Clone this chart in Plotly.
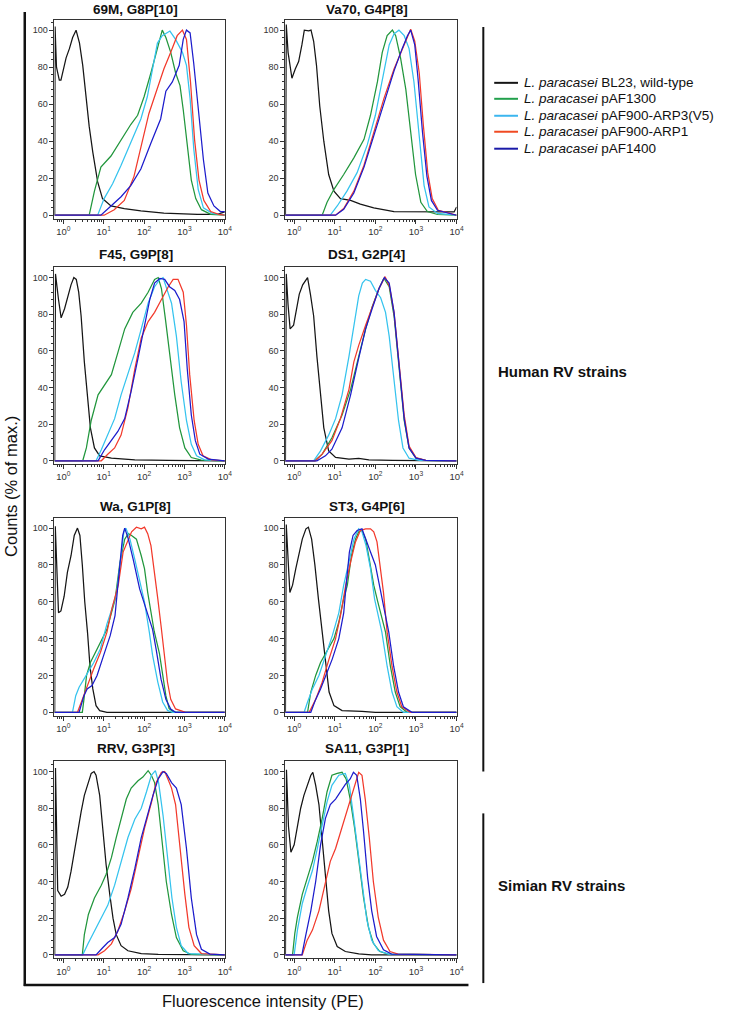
import numpy as np
import plotly.graph_objects as go

W, H = 729, 1016

# ---------------- data (x as log10 fluorescence, y as % of max) ----------------
# 69M, G8P[10]
m69_wt_lx = [-0.215,-0.205,-0.19,-0.17,-0.10,-0.06,-0.014,0.068,0.15,0.23,0.315,0.40,0.48,0.56,0.64,0.73,0.85,0.97,1.18,1.51,1.92,2.49,3.32,3.81,4.0]
m69_wt_y = [0,102,92,80,73,73,78,85,90,96,100,93,81,64,48,34,18,9,5,3.6,2.3,1.2,0.5,0.5,1.8]
m69_g_lx = [-0.22,0.64,0.77,0.93,1.18,1.43,1.67,1.84,2.0,2.17,2.33,2.45,2.54,2.66,2.78,2.89,2.97,3.07,3.17,3.28,3.42,3.65,4.0]
m69_g_y = [0,0,13,26,32,41,49,54,64,77,91,100,96,88,77,70,57,37,19,9,3,0.5,0]
m69_c_lx = [-0.22,0.85,1.01,1.22,1.43,1.67,1.92,2.08,2.21,2.33,2.45,2.64,2.78,2.95,3.05,3.14,3.23,3.34,3.47,3.69,4.0]
m69_c_y = [0,0,9,17,27,39,52,64,79,93,97,99.5,95,88,81,63,36,14,4,1,0]
m69_r_lx = [-0.22,1.01,1.26,1.51,1.75,1.96,2.12,2.29,2.49,2.66,2.82,2.95,3.05,3.15,3.25,3.36,3.48,3.65,3.85,4.0]
m69_r_y = [0,0,3,8,21,41,55,66,79,88,97,100,95,72,41,19,8,2,0.5,0]
m69_b_lx = [-0.22,0.93,1.18,1.43,1.67,1.92,2.17,2.41,2.54,2.70,2.87,2.97,3.05,3.14,3.23,3.34,3.47,3.58,3.73,3.89,4.0]
m69_b_y = [0,0,5,10,16,25,39,52,67,72,81,95,100,98.5,82,57,30,12,5,2,2]

# Va70, G4P[8]
va_wt_lx = [-0.215,-0.195,-0.15,-0.055,0.027,0.11,0.19,0.25,0.357,0.415,0.48,0.55,0.63,0.73,0.85,0.98,1.14,1.39,1.63,1.96,2.46,3.28,3.94,4.0]
va_wt_y = [0,103,88,74,79,83,92,100,99.6,100,94,81,59,40,22,13,9,8,6,4,2,1.8,1.8,4.5]
va_g_lx = [-0.22,0.69,0.81,0.98,1.22,1.47,1.72,1.88,2.05,2.17,2.29,2.42,2.5,2.62,2.75,2.87,2.99,3.12,3.28,3.53,4.0]
va_g_y = [0,0,7,14,22,31,41,54,72,88,97,100,97,85,68,45,22,7,2,0.4,0]
va_c_lx = [-0.22,0.89,1.06,1.3,1.55,1.8,2.0,2.17,2.34,2.46,2.58,2.71,2.83,2.95,3.08,3.2,3.32,3.53,4.0]
va_c_y = [0,0,5,13,23,38,54,74,92,98,100,97,90,72,41,16,4.5,1,0]
va_r_lx = [-0.22,1.02,1.22,1.47,1.72,1.96,2.21,2.46,2.66,2.79,2.87,2.97,3.08,3.18,3.29,3.4,3.55,3.8,4.0]
va_r_y = [0,0,3.6,13,27,45,63,79,90,97,100.5,94,77,49,23,9,2.7,1.3,0]
va_b_lx = [-0.22,1.02,1.22,1.47,1.72,1.96,2.21,2.46,2.66,2.79,2.87,2.97,3.05,3.16,3.27,3.38,3.53,3.78,4.0]
va_b_y = [0,0,3.2,12,26,43,61,78,90,97,100,92,74,45,21,8,2.7,1.3,0]

# F45, G9P[8]
f45_wt_lx = [-0.215,-0.195,-0.12,-0.055,0.03,0.11,0.19,0.26,0.32,0.38,0.44,0.52,0.59,0.67,0.77,0.90,1.19,1.77,2.6,4.0]
f45_wt_y = [0,102,88,78,83,90,96,100,99,92,79,54,36,18,7,2.7,1.4,0.5,0.2,0]
f45_g_lx = [-0.22,0.48,0.57,0.69,0.86,1.02,1.19,1.35,1.52,1.72,1.93,2.1,2.26,2.35,2.43,2.53,2.63,2.76,2.88,3.01,3.17,3.42,4.0]
f45_g_y = [0,0,7,22,36,41,47,59,72,81,86,92,99,100,94,77,58,36,18,7,1.8,0.4,0]
f45_c_lx = [-0.22,0.81,0.94,1.1,1.27,1.43,1.6,1.77,1.93,2.1,2.26,2.39,2.47,2.55,2.68,2.8,2.92,3.05,3.17,3.3,3.5,4.0]
f45_c_y = [0,0,6,14,23,36,47,59,72,86,95,99,100,95,86,68,43,22,9,2.7,0.5,0]
f45_r_lx = [-0.22,0.94,1.1,1.27,1.43,1.6,1.77,1.93,2.1,2.26,2.43,2.6,2.72,2.84,2.97,3.05,3.13,3.24,3.34,3.46,3.67,4.0]
f45_r_y = [0,0,3.6,7,14,29,50,67,76,81,88,95,99,99,92,74,47,22,9,2.7,0.5,0]
f45_b_lx = [-0.22,0.86,1.02,1.19,1.35,1.52,1.68,1.85,2.01,2.14,2.26,2.39,2.51,2.63,2.76,2.88,2.99,3.07,3.17,3.27,3.38,3.59,4.0]
f45_b_y = [0,0,6,11,16,23,38,56,74,88,97,99.5,99,95,93,88,76,50,25,11,3.6,0.9,0]

# DS1, G2P[4]
ds1_wt_lx = [-0.215,-0.195,-0.15,-0.1,-0.014,0.044,0.126,0.21,0.27,0.33,0.40,0.48,0.56,0.65,0.73,0.85,1.02,1.35,1.59,1.84,2.42,4.0]
ds1_wt_y = [0,102,85,72,74,81,91,96,98,100,91,79,57,36,18,5.4,1.8,0.9,1.3,0.5,0.2,0]
ds1_g_lx = [-0.22,0.51,0.69,0.93,1.18,1.39,1.59,1.76,1.92,2.09,2.21,2.34,2.46,2.58,2.71,2.83,3.0,3.24,4.0]
ds1_g_y = [0,0,3.6,12.6,25,39,57,72,84,94,99.6,95,79,50,22,7,1.4,0.2,0]
ds1_c_lx = [-0.22,0.48,0.65,0.85,1.02,1.18,1.35,1.47,1.59,1.68,1.76,1.88,2.0,2.13,2.25,2.34,2.46,2.57,2.68,2.83,3.08,4.0]
ds1_c_y = [0,0,5.4,14,23,36,57,74,90,97,99,98,93,89,81,68,43,22,7,1.4,0.2,0]
ds1_r_lx = [-0.22,0.52,0.69,0.93,1.14,1.35,1.47,1.59,1.76,1.92,2.09,2.24,2.35,2.46,2.58,2.71,2.83,3.0,3.24,4.0]
ds1_r_y = [0,0,3.6,11,23,39,54,63,74,84,94,100.5,95,81,54,25,8,1.8,0.2,0]
ds1_b_lx = [-0.22,0.56,0.77,0.93,1.18,1.39,1.59,1.76,1.92,2.09,2.22,2.34,2.46,2.58,2.71,2.83,3.0,3.24,4.0]
ds1_b_y = [0,0,2.7,6.3,18,36,56,72,83,94,100,97,81,52,23,7,1.4,0.2,0]

# Wa, G1P[8]
wa_wt_lx = [-0.215,-0.2,-0.12,-0.06,0.02,0.10,0.19,0.27,0.35,0.41,0.47,0.53,0.6,0.66,0.73,0.81,0.9,1.08,4.0]
wa_wt_y = [0,101,54,55,63,76,85,96,100,96,80,60,43,25,12.7,3.6,0.9,0,0]
wa_g_lx = [-0.22,0.47,0.51,0.575,0.67,0.835,0.92,1.08,1.28,1.40,1.52,1.61,1.69,1.81,1.93,2.01,2.09,2.17,2.25,2.38,2.46,2.54,2.62,2.74,4.0]
wa_g_y = [0,0,7,20,27,34,38,45,61,81,94,97,96,94,85,78,65,54,44,32,20,9,2,0,0]
wa_c_lx = [-0.22,0.226,0.307,0.39,0.51,0.63,0.754,0.916,1.08,1.20,1.32,1.42,1.50,1.55,1.65,1.77,1.89,2.01,2.13,2.21,2.34,2.46,2.58,2.70,4.0]
wa_c_y = [0,0,9,13.6,18,22.6,27,34.4,48,56,65,83,98,100,94,83,71,60,43.5,31,16.4,5.6,1,0,0]
wa_r_lx = [-0.22,0.35,0.47,0.59,0.75,0.92,1.08,1.20,1.36,1.48,1.57,1.69,1.81,1.93,2.01,2.09,2.17,2.25,2.34,2.42,2.50,2.58,2.66,2.78,3.03,4.0]
wa_r_y = [0,0,7,14.5,23.5,32.6,43.5,56,69,87,92,98,100.5,99.6,100.5,97,90.5,78,61.6,47,31,16.3,7,1.8,0,0]
wa_b_lx = [-0.22,0.39,0.51,0.59,0.71,0.835,1.0,1.16,1.28,1.40,1.47,1.52,1.61,1.73,1.89,2.05,2.21,2.30,2.42,2.54,2.66,2.78,4.0]
wa_b_y = [0,0,9,12.7,14.5,20,31,41.6,52.5,78,96,100,94,83,67,56,45,34,18,7,1.8,0,0]

# ST3, G4P[6]
st3_wt_lx = [-0.215,-0.195,-0.106,-0.04,0.04,0.12,0.20,0.29,0.35,0.43,0.51,0.60,0.69,0.78,0.86,0.98,1.18,1.67,2.0,4.0]
st3_wt_y = [0,102,65,69,78,87,94,99.6,100.5,94,80,61,43.5,25,11,3.6,0.9,0.5,0,0]
st3_g_lx = [-0.22,0.33,0.41,0.53,0.65,0.82,0.98,1.10,1.22,1.31,1.41,1.51,1.59,1.67,1.76,1.85,1.96,2.06,2.25,2.37,2.49,2.61,2.78,4.0]
st3_g_y = [0,0,11,20,27,34,40,49,61.6,69,85,94,98,98.7,94,83,69,60,43.5,25,11,3,0,0]
st3_c_lx = [-0.22,0.245,0.33,0.45,0.61,0.78,0.94,1.10,1.22,1.35,1.47,1.59,1.67,1.77,1.88,1.98,2.16,2.29,2.41,2.53,2.69,4.0]
st3_c_y = [0,0,5.6,12.7,20,31,41.6,54,69,81.6,94,99.6,98,90.5,78,61.6,43.5,25,11,3,0,0]
st3_r_lx = [-0.22,0.37,0.53,0.69,0.86,1.02,1.14,1.27,1.39,1.51,1.63,1.76,1.88,1.96,2.04,2.12,2.20,2.29,2.41,2.53,2.65,2.86,4.0]
st3_r_y = [0,0,7,16.3,29,40,52.5,69,81.6,92.5,98.7,99.6,99.6,98,92.5,80,65,43.5,25,11,3,0,0]
st3_b_lx = [-0.22,0.41,0.53,0.65,0.78,0.94,1.10,1.22,1.28,1.36,1.45,1.55,1.67,1.77,1.88,2.0,2.08,2.16,2.33,2.45,2.57,2.69,2.90,4.0]
st3_b_y = [0,0,7,12.7,20,29,40,54,69,87,96,98.7,99.6,94,87,80,71,61.6,43.5,25,11,3,0,0]

# RRV, G3P[3]
rrv_wt_lx = [-0.215,-0.195,-0.14,-0.055,0.03,0.11,0.19,0.28,0.36,0.44,0.52,0.61,0.69,0.76,0.81,0.9,0.98,1.06,1.15,1.23,1.31,1.43,1.6,1.93,2.35,4.0]
rrv_wt_y = [0,102,35,32,33,37,45.5,58,69,78,87,94,99,100,98,87,69,49,33,20,11,5,2.2,0.7,0.2,0]
rrv_g_lx = [-0.22,0.47,0.52,0.62,0.77,0.94,1.06,1.19,1.31,1.43,1.56,1.68,1.85,1.97,2.1,2.18,2.26,2.35,2.43,2.55,2.68,2.8,2.97,3.17,4.0]
rrv_g_y = [0,0,11,22,31,38,44,53,64,74,85,91,95,97,100.5,98,94,82,64,40,22,9.4,2.2,0.2,0]
rrv_c_lx = [-0.22,0.48,0.61,0.77,0.94,1.1,1.27,1.43,1.6,1.77,1.93,2.06,2.18,2.28,2.36,2.47,2.58,2.69,2.8,2.92,3.09,4.0]
rrv_c_y = [0,0,6,13,20,27,38,51,64,74,80,89,98,100.5,94,76,53,31,15,5,0.7,0]
rrv_r_lx = [-0.22,0.86,1.02,1.19,1.35,1.52,1.68,1.85,2.01,2.18,2.3,2.43,2.51,2.59,2.68,2.78,2.88,3.01,3.11,3.24,3.42,4.0]
rrv_r_y = [0,0,2.2,6,13,24,36,53,69,83,94,99.6,100,96,91,82,60,33,15,5,0.7,0]
rrv_b_lx = [-0.22,0.81,0.98,1.1,1.27,1.43,1.6,1.77,1.93,2.1,2.22,2.35,2.47,2.55,2.68,2.8,2.92,3.05,3.17,3.3,3.42,3.63,4.0]
rrv_b_y = [0,0,4,6.7,9.4,16.6,31,47,64,78,87,96,100,99,94,91,82,58,31,11,3,0.4,0]

# SA11, G3P[1]
sa_wt_lx = [-0.215,-0.19,-0.14,-0.08,0.0,0.08,0.16,0.24,0.32,0.41,0.46,0.53,0.61,0.69,0.77,0.85,0.93,1.06,1.26,1.59,1.91,4.0]
sa_wt_y = [0,101,70,56,60,71,80,87,92.5,98,99.6,92.5,82,64,44,24,11.7,4.5,1.8,0.5,0,0]
sa_g_lx = [-0.22,-0.04,0.016,0.08,0.2,0.32,0.45,0.57,0.69,0.81,0.93,1.06,1.18,1.28,1.38,1.49,1.59,1.71,1.83,1.95,2.11,2.32,4.0]
sa_g_y = [0,0,11.7,20.6,33,42,51,62,74.5,89,98,99,99.6,96,85,69,51,31,15,6.3,1.8,0.4,0]
sa_c_lx = [-0.22,0.0,0.08,0.2,0.32,0.45,0.57,0.69,0.81,0.93,1.1,1.26,1.36,1.46,1.57,1.67,1.79,1.91,2.07,2.32,4.0]
sa_c_y = [0,0,13.5,28,37,46,58,71,83.5,92.5,98,99,92.5,76,56.5,37,19,8,2.3,0.4,0]
sa_r_lx = [-0.22,0.2,0.32,0.45,0.61,0.77,0.89,1.02,1.14,1.26,1.38,1.5,1.59,1.67,1.75,1.85,1.95,2.07,2.2,2.36,2.56,4.0]
sa_r_y = [0,0,8,13.5,24,38.6,51,58,67,76,85,94,99.6,98,85,64,40,20.6,8,1.8,0.4,0]
sa_b_lx = [-0.22,0.19,0.28,0.41,0.53,0.65,0.77,0.89,1.02,1.14,1.26,1.38,1.46,1.54,1.63,1.71,1.81,1.91,2.03,2.2,2.4,4.0]
sa_b_y = [0,0,10,24,40,60,74.5,82,85,89,93,96,99.6,98,85,67,42,24,10,2.7,0.4,0]

series_names = ["<i>L. paracasei</i> BL23, wild-type", "<i>L. paracasei</i> pAF1300",
                "<i>L. paracasei</i> pAF900-ARP3(V5)", "<i>L. paracasei</i> pAF900-ARP1",
                "<i>L. paracasei</i> pAF1400"]
series_colors = ["#151515", "#21963c", "#35c3ee", "#f2392b", "#1c1ccc"]
legend_colors = ["#151515", "#22a04c", "#3cb6ef", "#f04a22", "#1a1aa8"]

panel_titles = ["69M, G8P[10]", "Va70, G4P[8]", "F45, G9P[8]", "DS1, G2P[4]",
                "Wa, G1P[8]", "ST3, G4P[6]", "RRV, G3P[3]", "SA11, G3P[1]"]
panel_data = [
    [(m69_wt_lx, m69_wt_y), (m69_g_lx, m69_g_y), (m69_c_lx, m69_c_y), (m69_r_lx, m69_r_y), (m69_b_lx, m69_b_y)],
    [(va_wt_lx, va_wt_y), (va_g_lx, va_g_y), (va_c_lx, va_c_y), (va_r_lx, va_r_y), (va_b_lx, va_b_y)],
    [(f45_wt_lx, f45_wt_y), (f45_g_lx, f45_g_y), (f45_c_lx, f45_c_y), (f45_r_lx, f45_r_y), (f45_b_lx, f45_b_y)],
    [(ds1_wt_lx, ds1_wt_y), (ds1_g_lx, ds1_g_y), (ds1_c_lx, ds1_c_y), (ds1_r_lx, ds1_r_y), (ds1_b_lx, ds1_b_y)],
    [(wa_wt_lx, wa_wt_y), (wa_g_lx, wa_g_y), (wa_c_lx, wa_c_y), (wa_r_lx, wa_r_y), (wa_b_lx, wa_b_y)],
    [(st3_wt_lx, st3_wt_y), (st3_g_lx, st3_g_y), (st3_c_lx, st3_c_y), (st3_r_lx, st3_r_y), (st3_b_lx, st3_b_y)],
    [(rrv_wt_lx, rrv_wt_y), (rrv_g_lx, rrv_g_y), (rrv_c_lx, rrv_c_y), (rrv_r_lx, rrv_r_y), (rrv_b_lx, rrv_b_y)],
    [(sa_wt_lx, sa_wt_y), (sa_g_lx, sa_g_y), (sa_c_lx, sa_c_y), (sa_r_lx, sa_r_y), (sa_b_lx, sa_b_y)],
]

x_tickvals = [1, 10, 100, 1000, 10000]
x_ticktext = ["10<sup>0</sup>", "10<sup>1</sup>", "10<sup>2</sup>", "10<sup>3</sup>", "10<sup>4</sup>"]
y_tickvals = [0, 20, 40, 60, 80, 100]

# ---------------- layout geometry (pixels) ----------------
col_px = [(55, 227), (288, 461)]
row_px = [(20, 219), (268, 465), (519, 717), (763, 960)]
title_y_px = [10, 255, 507, 750]

FONT = "Arial, 'Liberation Sans', sans-serif"

def px_x(p):
    return p / W

def px_y(p):
    return 1 - p / H

fig = go.Figure()
layout = dict(width=W, height=H, margin=dict(l=0, r=0, t=0, b=0),
              paper_bgcolor="white", plot_bgcolor="white", showlegend=False,
              font=dict(family=FONT, color="#222"))
annotations = []
shapes = []

minor_x = [m * 10.0 ** d for d in range(-1, 4) for m in range(2, 10)]
minor_x = [v for v in minor_x if 10 ** -0.22 <= v <= 10000]

for i, (title, traces) in enumerate(zip(panel_titles, panel_data)):
    r, c = divmod(i, 2)
    n = i + 1
    xa = "xaxis" if n == 1 else f"xaxis{n}"
    ya = "yaxis" if n == 1 else f"yaxis{n}"
    xref = "x" if n == 1 else f"x{n}"
    yref = "y" if n == 1 else f"y{n}"
    x0, x1 = col_px[c]
    t0, b0 = row_px[r]
    layout[xa] = dict(domain=[px_x(x0), px_x(x1)], anchor=yref, type="log", range=[-0.22, 4.0],
                      tickvals=x_tickvals, ticktext=x_ticktext, ticks="outside", ticklen=4,
                      tickcolor="#333", showline=True, linecolor="#333", linewidth=1, mirror=True,
                      showgrid=False, zeroline=False, tickfont=dict(size=9.5, color="#333"),
                      minor=dict(tickvals=minor_x, ticks="outside", ticklen=2, tickcolor="#333", showgrid=False))
    layout[ya] = dict(domain=[px_y(b0), px_y(t0)], anchor=xref, range=[-1.8, 105.5],
                      tickvals=y_tickvals, ticks="outside", ticklen=4, tickcolor="#333",
                      showline=True, linecolor="#333", linewidth=1, mirror=True, showgrid=False,
                      zeroline=False, tickfont=dict(size=9, color="#333"),
                      minor=dict(dtick=4, tick0=0, ticks="outside", ticklen=2, tickcolor="#333", showgrid=False))
    for k, (lx, yv) in enumerate(traces):
        fig.add_trace(go.Scatter(x=np.power(10.0, np.array(lx)), y=yv, mode="lines",
                                 line=dict(color=series_colors[k], width=1.25),
                                 name=series_names[k], xaxis=xref, yaxis=yref,
                                 hoverinfo="skip"))
    annotations.append(dict(text=f"<b>{title}</b>", x=px_x((x0 + x1) / 2 - 4), y=px_y(title_y_px[r]),
                            xref="paper", yref="paper", showarrow=False, xanchor="center",
                            yanchor="middle", font=dict(size=13.5, color="#111", family=FONT)))

# outer L-frame
shapes.append(dict(type="line", xref="paper", yref="paper", x0=px_x(25), x1=px_x(25),
                   y0=px_y(12), y1=px_y(988), line=dict(color="#111", width=2.5)))
shapes.append(dict(type="line", xref="paper", yref="paper", x0=px_x(24), x1=px_x(473),
                   y0=px_y(987), y1=px_y(987), line=dict(color="#111", width=2.5)))
# group brackets
shapes.append(dict(type="line", xref="paper", yref="paper", x0=px_x(488), x1=px_x(488),
                   y0=px_y(27), y1=px_y(773), line=dict(color="#111", width=2)))
shapes.append(dict(type="line", xref="paper", yref="paper", x0=px_x(488), x1=px_x(488),
                   y0=px_y(815), y1=px_y(985), line=dict(color="#111", width=2)))

# legend (drawn)
legend_rows = [83, 99, 116, 132, 149]
for k, yy in enumerate(legend_rows):
    shapes.append(dict(type="line", xref="paper", yref="paper", x0=px_x(499), x1=px_x(523),
                       y0=px_y(yy), y1=px_y(yy), line=dict(color=legend_colors[k], width=2)))
    annotations.append(dict(text=series_names[k], x=px_x(527), y=px_y(yy), xref="paper", yref="paper",
                            showarrow=False, xanchor="left", yanchor="middle",
                            font=dict(size=13.5, color="#111", family=FONT)))

annotations.append(dict(text="<b>Human RV strains</b>", x=px_x(501), y=px_y(372), xref="paper", yref="paper",
                        showarrow=False, xanchor="left", yanchor="middle",
                        font=dict(size=15, color="#111", family=FONT)))
annotations.append(dict(text="<b>Simian RV strains</b>", x=px_x(501), y=px_y(887), xref="paper", yref="paper",
                        showarrow=False, xanchor="left", yanchor="middle",
                        font=dict(size=15, color="#111", family=FONT)))
annotations.append(dict(text="Counts (% of max.)", x=px_x(11), y=px_y(487), xref="paper", yref="paper",
                        showarrow=False, textangle=-90, xanchor="center", yanchor="middle",
                        font=dict(size=16.5, color="#111", family=FONT)))
annotations.append(dict(text="Fluorescence intensity (PE)", x=px_x(266), y=px_y(1003), xref="paper", yref="paper",
                        showarrow=False, xanchor="center", yanchor="middle",
                        font=dict(size=16.5, color="#111", family=FONT)))

layout["annotations"] = annotations
layout["shapes"] = shapes
fig.update_layout(**layout)
fig.write_html("out.html", config={"displayModeBar": False},
               post_script="document.body.style.margin='0';document.body.style.padding='0';")
